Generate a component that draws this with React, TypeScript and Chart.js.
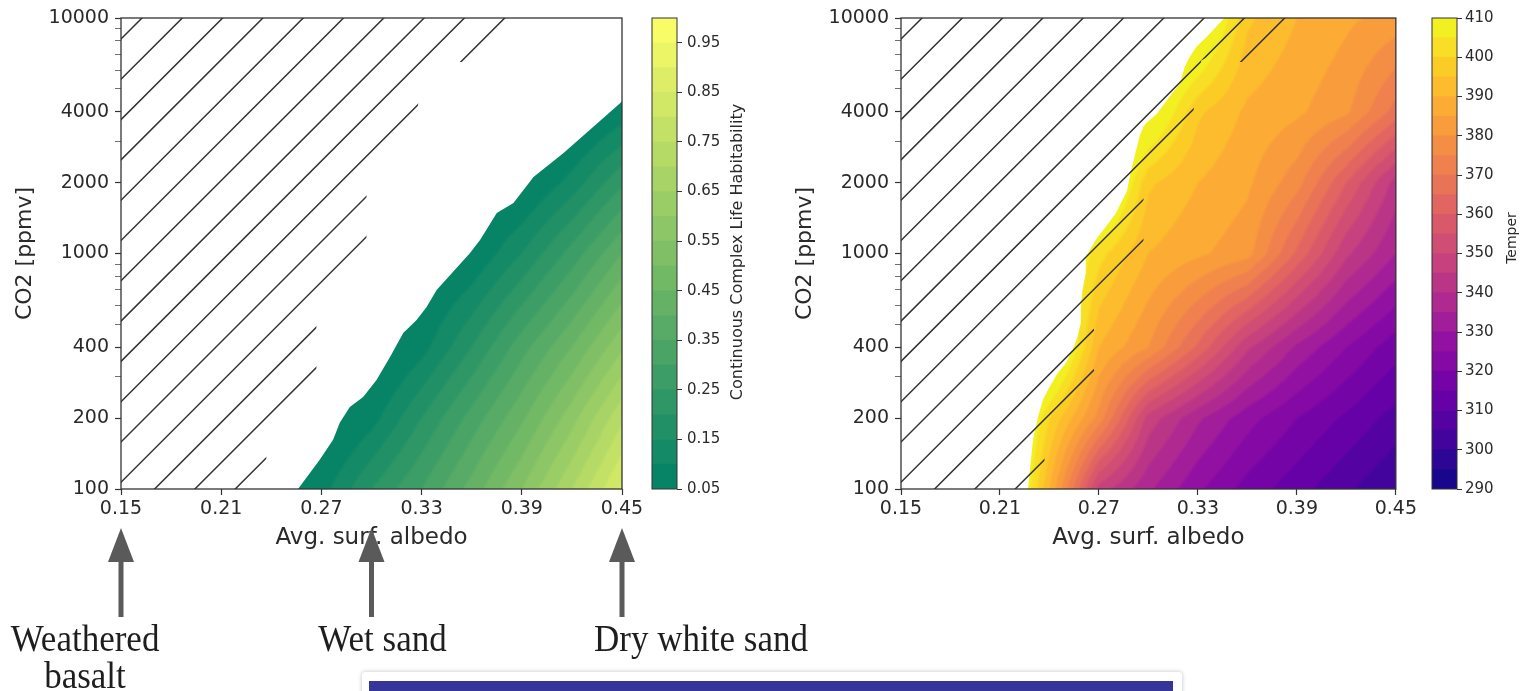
import React, { useEffect, useRef } from 'react';
import { Chart, registerables } from 'chart.js';

Chart.register(...registerables);
Chart.defaults.font.family = '"DejaVu Sans", sans-serif';
Chart.defaults.color = '#2a2a2a';

// ---------------- axes ----------------
const ALBEDO_TICKS = [0.15, 0.21, 0.27, 0.33, 0.39, 0.45];
const CO2_MAJOR_TICKS = [100, 200, 400, 1000, 2000, 4000, 10000];
const CO2_MINOR_TICKS = [300, 500, 600, 700, 800, 900, 3000, 5000, 6000, 7000, 8000, 9000];

// ---------------- habitability field (left panel) ----------------
const HAB_GRID_ALBEDO = [0.24, 0.27, 0.30, 0.33, 0.36, 0.39, 0.42, 0.45];
const HAB_GRID_CO2 = [100, 200, 400, 1000, 2000, 4000, 10000];
const HAB_AT_CO2_100 = [0.0, 0.08, 0.2, 0.3, 0.42, 0.55, 0.7, 0.86];
const HAB_AT_CO2_200 = [0.0, 0.0, 0.08, 0.2, 0.32, 0.44, 0.58, 0.74];
const HAB_AT_CO2_400 = [0.0, 0.0, 0.0, 0.08, 0.2, 0.33, 0.45, 0.59];
const HAB_AT_CO2_1000 = [0.0, 0.0, 0.0, 0.0, 0.05, 0.15, 0.27, 0.4];
const HAB_AT_CO2_2000 = [0.0, 0.0, 0.0, 0.0, 0.0, 0.03, 0.12, 0.24];
const HAB_AT_CO2_4000 = [0.0, 0.0, 0.0, 0.0, 0.0, 0.0, 0.0, 0.07];
const HAB_AT_CO2_10000 = [0.0, 0.0, 0.0, 0.0, 0.0, 0.0, 0.0, 0.0];
const HAB_LEVELS = [0.05, 0.1, 0.15, 0.2, 0.25, 0.3, 0.35, 0.4, 0.45, 0.5, 0.55, 0.6, 0.65, 0.7, 0.75, 0.8, 0.85, 0.9, 0.95, 1.0];
const HAB_CB_TICKS = [0.05, 0.15, 0.25, 0.35, 0.45, 0.55, 0.65, 0.75, 0.85, 0.95];
// upper-left edge of the habitable (filled) region
const HAB_EDGE_ALBEDO = [0.256, 0.269, 0.277, 0.281, 0.287, 0.295, 0.303, 0.311, 0.319, 0.327, 0.333, 0.339, 0.359, 0.365, 0.375, 0.385, 0.397, 0.415, 0.449, 0.45];
const HAB_EDGE_CO2 = [100, 133, 162, 191, 223, 246, 290, 363, 460, 522, 593, 700, 1005, 1141, 1486, 1638, 2113, 2672, 4355, 4440];

// ---------------- temperature field (right panel) ----------------
const TEMP_GRID_ALBEDO = [0.21, 0.24, 0.27, 0.3, 0.33, 0.36, 0.39, 0.42, 0.45];
const TEMP_GRID_CO2 = [100, 200, 400, 1000, 2000, 4000, 10000];
const TEMP_AT_CO2_100 = [430, 390, 348, 336, 326, 318, 312, 306, 300];
const TEMP_AT_CO2_200 = [430, 400, 378, 348, 336, 327, 320, 314, 308];
const TEMP_AT_CO2_400 = [430, 425, 390, 380, 364, 346, 334, 325, 317];
const TEMP_AT_CO2_1000 = [430, 420, 402, 390, 386, 382, 364, 346, 335];
const TEMP_AT_CO2_2000 = [430, 425, 425, 396, 390, 386, 377, 360, 343];
const TEMP_AT_CO2_4000 = [430, 425, 425, 415, 396, 389, 386, 381, 368];
const TEMP_AT_CO2_10000 = [430, 425, 425, 425, 420, 396, 390, 386, 383];
const TEMP_LEVELS = [290, 295, 300, 305, 310, 315, 320, 325, 330, 335, 340, 345, 350, 355, 360, 365, 370, 375, 380, 385, 390, 395, 400, 405, 410];
const TEMP_CB_TICKS = [290, 300, 310, 320, 330, 340, 350, 360, 370, 380, 390, 400, 410];
// left edge of the region where temperature is defined
const TEMP_EDGE_ALBEDO = [0.227, 0.23, 0.233, 0.236, 0.239, 0.245, 0.25, 0.254, 0.257, 0.259, 0.259, 0.26, 0.262, 0.262, 0.268, 0.274, 0.28, 0.287, 0.289, 0.292, 0.295, 0.298, 0.305, 0.314, 0.319, 0.322, 0.325, 0.329, 0.337, 0.346];
const TEMP_EDGE_CO2 = [100, 162, 202, 239, 263, 311, 343, 389, 442, 507, 593, 700, 827, 967, 1141, 1296, 1472, 1842, 2176, 2646, 3217, 3548, 3912, 4757, 5245, 6194, 6832, 7529, 8553, 10000];

// ---------------- hatched (excluded) region, both panels ----------------
const HATCH_ALBEDO = [0.15, 0.386, 0.362, 0.353, 0.344, 0.332, 0.327, 0.297, 0.297, 0.267, 0.267, 0.237, 0.237, 0.15];
const HATCH_CO2 = [10000, 10000, 6500, 6500, 7300, 6600, 3900, 1860, 1035, 635, 240, 178, 100, 100];

// ---------------- surface annotations ----------------
const SURFACE_ALBEDO = [0.15, 0.3, 0.45];
const SURFACE_LABELS = [['Weathered', 'basalt'], ['Wet sand'], ['Dry white sand']];

// ---------------- style ----------------
const STYLE = {
  plotTop: 18,
  plotBottom: 489,
  yAxisWidth: 121,
  xAxisHeight: 65,
  hatchSpacing: 40.3,
  hatchOffset: 21,
  labelDx: [-36, 11, 79],
  arrowTip: 528,
  arrowHeadBase: 562,
  arrowBottom: 617,
  labelBaselines: [651, 688],
};

type RGB = [number, number, number];
const summer = (t: number): RGB => [Math.round(255 * t), Math.round(255 * (0.5 + 0.5 * t)), 102];
const PLASMA_STOPS: RGB[] = [
  [13, 8, 135], [65, 4, 157], [106, 0, 168], [143, 13, 164], [177, 42, 144], [204, 71, 120],
  [225, 100, 98], [242, 132, 75], [252, 166, 54], [252, 206, 37], [240, 249, 33],
];
const plasma = (t: number): RGB => {
  const s = Math.min(Math.max(t, 0), 1) * 10;
  const i = Math.min(Math.floor(s), 9);
  const f = s - i;
  const a = PLASMA_STOPS[i], b = PLASMA_STOPS[i + 1];
  return [0, 1, 2].map((c) => Math.round(a[c] + (b[c] - a[c]) * f)) as RGB;
};
const css = (c: RGB) => `rgb(${c[0]},${c[1]},${c[2]})`;

type Field = {
  xs: number[];
  ys: number[];
  rows: number[][];
  levels: number[];
  cmap: (t: number) => RGB;
  polyA: number[];
  polyC: number[];
};

function bilinear(xs: number[], lys: number[], rows: number[][], x: number, ly: number) {
  let i = 0;
  while (i < xs.length - 2 && x > xs[i + 1]) i++;
  let j = 0;
  while (j < lys.length - 2 && ly > lys[j + 1]) j++;
  const tx = Math.min(Math.max((x - xs[i]) / (xs[i + 1] - xs[i]), 0), 1);
  const ty = Math.min(Math.max((ly - lys[j]) / (lys[j + 1] - lys[j]), 0), 1);
  const a = rows[j][i] * (1 - tx) + rows[j][i + 1] * tx;
  const b = rows[j + 1][i] * (1 - tx) + rows[j + 1][i + 1] * tx;
  return a * (1 - ty) + b * ty;
}

function polyPath(ctx: CanvasRenderingContext2D, chart: any, A: number[], C: number[]) {
  const xS = chart.scales.x, yS = chart.scales.y;
  ctx.beginPath();
  A.forEach((a, k) => {
    const px = xS.getPixelForValue(a);
    const py = yS.getPixelForValue(C[k]);
    if (k === 0) ctx.moveTo(px, py);
    else ctx.lineTo(px, py);
  });
  ctx.closePath();
}

function fieldPlugin(f: Field) {
  return {
    id: 'contourField',
    beforeDatasetsDraw(chart: any) {
      const { ctx, chartArea: ca } = chart;
      const xS = chart.scales.x, yS = chart.scales.y;
      const m = 6;
      const w = Math.round(ca.right - ca.left), h = Math.round(ca.bottom - ca.top);
      const W = w + 2 * m, H = h + 2 * m;
      const off = document.createElement('canvas');
      off.width = W;
      off.height = H;
      const octx = off.getContext('2d')!;
      const img = octx.createImageData(W, H);
      const lys = f.ys.map(Math.log10);
      const n = f.levels.length - 1;
      const cols: RGB[] = [];
      for (let k = 0; k < n; k++) cols.push(f.cmap((k + 0.5) / n));
      const colX: number[] = [];
      for (let i = 0; i < W; i++) {
        const px = Math.min(Math.max(ca.left - m + i + 0.5, ca.left), ca.right);
        colX.push(xS.getValueForPixel(px));
      }
      for (let j = 0; j < H; j++) {
        const py = Math.min(Math.max(ca.top - m + j + 0.5, ca.top), ca.bottom);
        const ly = Math.log10(yS.getValueForPixel(py));
        for (let i = 0; i < W; i++) {
          const v = bilinear(f.xs, lys, f.rows, colX[i], ly);
          let k = 0;
          while (k < n - 1 && v >= f.levels[k + 1]) k++;
          const c = cols[k];
          const p = (j * W + i) * 4;
          img.data[p] = c[0];
          img.data[p + 1] = c[1];
          img.data[p + 2] = c[2];
          img.data[p + 3] = 255;
        }
      }
      octx.putImageData(img, 0, 0);
      ctx.save();
      ctx.beginPath();
      ctx.rect(ca.left, ca.top, w, h);
      ctx.clip();
      polyPath(ctx, chart, f.polyA, f.polyC);
      ctx.clip();
      ctx.filter = 'blur(1.2px)';
      ctx.drawImage(off, ca.left - m, ca.top - m);
      ctx.filter = 'none';
      ctx.restore();
    },
  };
}

const hatchPlugin = {
  id: 'hatch',
  afterDatasetsDraw(chart: any) {
    const { ctx, chartArea: ca } = chart;
    ctx.save();
    ctx.beginPath();
    ctx.rect(ca.left, ca.top, ca.right - ca.left, ca.bottom - ca.top);
    ctx.clip();
    polyPath(ctx, chart, HATCH_ALBEDO, HATCH_CO2);
    ctx.clip();
    ctx.strokeStyle = '#333';
    ctx.lineWidth = 1.5;
    const H = ca.bottom - ca.top, W = ca.right - ca.left;
    ctx.beginPath();
    for (let c = STYLE.hatchOffset; c < W + H + STYLE.hatchSpacing; c += STYLE.hatchSpacing) {
      ctx.moveTo(ca.left + c - H - 5, ca.bottom + 5);
      ctx.lineTo(ca.left + c + 5, ca.top - 5);
    }
    ctx.stroke();
    ctx.restore();
  },
};

const framePlugin = {
  id: 'frame',
  afterDraw(chart: any) {
    const { ctx, chartArea: ca } = chart;
    ctx.save();
    ctx.strokeStyle = '#333';
    ctx.lineWidth = 1.3;
    ctx.strokeRect(ca.left, ca.top, ca.right - ca.left, ca.bottom - ca.top);
    ctx.restore();
  },
};

const annotationPlugin = {
  id: 'surfaces',
  afterDraw(chart: any) {
    const { ctx } = chart;
    const xS = chart.scales.x;
    ctx.save();
    SURFACE_ALBEDO.forEach((a, idx) => {
      const px = xS.getPixelForValue(a);
      ctx.fillStyle = '#5a5a5a';
      ctx.beginPath();
      ctx.moveTo(px, STYLE.arrowTip);
      ctx.lineTo(px - 13, STYLE.arrowHeadBase);
      ctx.lineTo(px + 13, STYLE.arrowHeadBase);
      ctx.closePath();
      ctx.fill();
      ctx.fillRect(px - 2.5, STYLE.arrowHeadBase - 2, 5, STYLE.arrowBottom - STYLE.arrowHeadBase + 2);
      ctx.fillStyle = '#1e1e1e';
      ctx.font = '35px "Liberation Serif", serif';
      ctx.textAlign = 'center';
      ctx.textBaseline = 'alphabetic';
      SURFACE_LABELS[idx].forEach((line, li) => {
        ctx.save();
        ctx.translate(px + STYLE.labelDx[idx], STYLE.labelBaselines[li]);
        ctx.scale(1, 1.1);
        ctx.fillText(line, 0, 0);
        ctx.restore();
      });
    });
    ctx.restore();
  },
};

function contourConfig(field: Field, padRight: number, extra: any[]) {
  const pts = field.polyA.map((a, k) => ({ x: a, y: field.polyC[k] }));
  return {
    type: 'scatter',
    data: { datasets: [{ data: pts, pointRadius: 0, showLine: false }] },
    options: {
      animation: false,
      responsive: false,
      devicePixelRatio: 1,
      events: [],
      layout: {
        padding: {
          left: 0,
          top: STYLE.plotTop,
          right: padRight,
          bottom: 691 - STYLE.plotBottom - STYLE.xAxisHeight,
        },
      },
      plugins: { legend: { display: false }, tooltip: { enabled: false } },
      scales: {
        x: {
          type: 'linear',
          min: 0.15,
          max: 0.45,
          afterBuildTicks: (s: any) => {
            s.ticks = ALBEDO_TICKS.map((v) => ({ value: v }));
          },
          afterFit: (s: any) => {
            s.height = STYLE.xAxisHeight;
          },
          ticks: {
            callback: (v: number) => v.toFixed(2),
            font: { size: 19 },
            color: '#2a2a2a',
            padding: 3,
            autoSkip: false,
            maxRotation: 0,
          },
          grid: { drawOnChartArea: false, tickLength: 6, color: '#333', tickWidth: 1.2 },
          border: { display: false },
          title: {
            display: true,
            text: 'Avg. surf. albedo',
            font: { size: 23 },
            color: '#2a2a2a',
            padding: { top: 0, bottom: 2 },
          },
        },
        y: {
          type: 'logarithmic',
          min: 100,
          max: 10000,
          afterBuildTicks: (s: any) => {
            s.ticks = [...CO2_MAJOR_TICKS, ...CO2_MINOR_TICKS]
              .sort((a, b) => a - b)
              .map((v) => ({ value: v }));
          },
          afterFit: (s: any) => {
            s.width = STYLE.yAxisWidth;
          },
          ticks: {
            callback: (v: number) => (CO2_MAJOR_TICKS.includes(v) ? String(v) : ''),
            font: { size: 19 },
            color: '#2a2a2a',
            padding: 6,
            autoSkip: false,
          },
          grid: {
            drawOnChartArea: false,
            tickLength: 6,
            color: '#333',
            tickWidth: (c: any) => (c.tick && CO2_MAJOR_TICKS.includes(c.tick.value) ? 1.2 : 0.7),
          },
          border: { display: false },
          title: {
            display: true,
            text: 'CO2 [ppmv]',
            font: { size: 22 },
            color: '#2a2a2a',
            padding: { top: 12, bottom: 0 },
          },
        },
      },
    },
    plugins: [fieldPlugin(field), hatchPlugin, framePlugin, ...extra],
  };
}

function colorbarConfig(o: {
  levels: number[];
  cmap: (t: number) => RGB;
  ticks: number[];
  fmt: (v: number) => string;
  axisWidth: number;
  label: string;
  labelX: number;
  labelY: number;
  labelSize: number;
  tickPadding: number;
}) {
  const n = o.levels.length - 1;
  const labelPlugin = {
    id: 'cbLabel',
    afterDraw(chart: any) {
      const { ctx, chartArea: ca } = chart;
      ctx.save();
      ctx.strokeStyle = '#333';
      ctx.lineWidth = 1;
      ctx.strokeRect(ca.left, ca.top, ca.right - ca.left, ca.bottom - ca.top);
      ctx.translate(o.labelX, o.labelY);
      ctx.rotate(-Math.PI / 2);
      ctx.fillStyle = '#2a2a2a';
      ctx.font = `${o.labelSize}px "DejaVu Sans", sans-serif`;
      ctx.textAlign = 'center';
      ctx.textBaseline = 'middle';
      ctx.fillText(o.label, 0, 0);
      ctx.restore();
    },
  };
  return {
    type: 'bar',
    data: {
      labels: ['band'],
      datasets: o.levels.slice(0, n).map((lo, k) => ({
        data: [[lo, o.levels[k + 1]]],
        backgroundColor: css(o.cmap((k + 0.5) / n)),
        borderWidth: 0,
        barPercentage: 1,
        categoryPercentage: 1,
      })),
    },
    options: {
      animation: false,
      responsive: false,
      devicePixelRatio: 1,
      events: [],
      layout: { padding: { left: 12, right: 0, top: STYLE.plotTop, bottom: 691 - STYLE.plotBottom } },
      plugins: { legend: { display: false }, tooltip: { enabled: false } },
      scales: {
        x: { display: false, stacked: true },
        y: {
          position: 'right',
          min: o.levels[0],
          max: o.levels[n],
          afterBuildTicks: (s: any) => {
            s.ticks = o.ticks.map((v) => ({ value: v }));
          },
          afterFit: (s: any) => {
            s.width = o.axisWidth;
          },
          ticks: {
            callback: (v: number) => o.fmt(v),
            font: { size: 15 },
            color: '#2a2a2a',
            padding: o.tickPadding,
            autoSkip: false,
          },
          grid: { drawOnChartArea: false, tickLength: 5, color: '#333' },
          border: { display: false },
        },
      },
    },
    plugins: [labelPlugin],
  };
}

const HAB_FIELD: Field = {
  xs: HAB_GRID_ALBEDO,
  ys: HAB_GRID_CO2,
  rows: [HAB_AT_CO2_100, HAB_AT_CO2_200, HAB_AT_CO2_400, HAB_AT_CO2_1000, HAB_AT_CO2_2000, HAB_AT_CO2_4000, HAB_AT_CO2_10000],
  levels: HAB_LEVELS,
  cmap: summer,
  polyA: [...HAB_EDGE_ALBEDO, 0.45],
  polyC: [...HAB_EDGE_CO2, 100],
};

const TEMP_FIELD: Field = {
  xs: TEMP_GRID_ALBEDO,
  ys: TEMP_GRID_CO2,
  rows: [TEMP_AT_CO2_100, TEMP_AT_CO2_200, TEMP_AT_CO2_400, TEMP_AT_CO2_1000, TEMP_AT_CO2_2000, TEMP_AT_CO2_4000, TEMP_AT_CO2_10000],
  levels: TEMP_LEVELS,
  cmap: plasma,
  polyA: [...TEMP_EDGE_ALBEDO, 0.45, 0.45],
  polyC: [...TEMP_EDGE_CO2, 10000, 100],
};

function ChartCanvas({ left, width, make }: { left: number; width: number; make: () => any }) {
  const ref = useRef<HTMLCanvasElement>(null);
  useEffect(() => {
    const chart = new Chart(ref.current!, make());
    return () => chart.destroy();
  }, []);
  return (
    <canvas
      ref={ref}
      width={width}
      height={691}
      style={{ position: 'absolute', left, top: 0, width, height: 691 }}
    />
  );
}

export default function App() {
  return (
    <div style={{ position: 'fixed', left: 0, top: 0, width: 1526, height: 691, overflow: 'hidden', background: '#fff' }}>
      <ChartCanvas left={0} width={830} make={() => contourConfig(HAB_FIELD, 830 - 622, [annotationPlugin])} />
      <ChartCanvas
        left={640}
        width={140}
        make={() =>
          colorbarConfig({
            levels: HAB_LEVELS,
            cmap: summer,
            ticks: HAB_CB_TICKS,
            fmt: (v) => v.toFixed(2),
            axisWidth: 140 - 37,
            label: 'Continuous Complex Life Habitability',
            labelX: 98,
            labelY: 252,
            labelSize: 16,
            tickPadding: 5,
          })
        }
      />
      <ChartCanvas left={780} width={640} make={() => contourConfig(TEMP_FIELD, 640 - 621, [])} />
      <ChartCanvas
        left={1420}
        width={106}
        make={() =>
          colorbarConfig({
            levels: TEMP_LEVELS,
            cmap: plasma,
            ticks: TEMP_CB_TICKS,
            fmt: (v) => String(v),
            axisWidth: 106 - 37,
            label: 'Temper',
            labelX: 92,
            labelY: 238,
            labelSize: 14,
            tickPadding: 3,
          })
        }
      />
      <div
        style={{
          position: 'absolute',
          left: 362,
          top: 672,
          width: 820,
          height: 40,
          background: '#fff',
          borderRadius: 3,
          boxShadow: '0 0 4px rgba(0,0,0,0.25)',
        }}
      />
      <div style={{ position: 'absolute', left: 369, top: 681, width: 804, height: 30, background: '#36359a' }} />
    </div>
  );
}
